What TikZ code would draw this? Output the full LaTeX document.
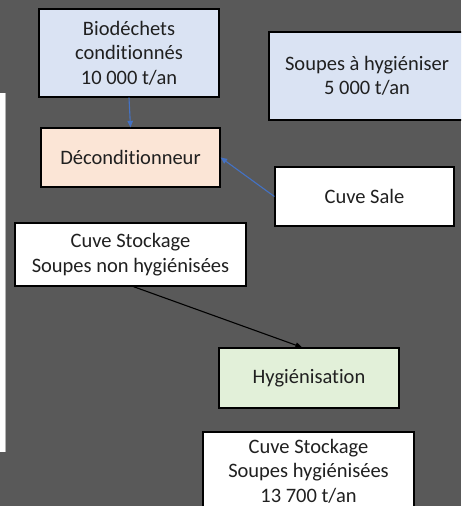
\documentclass[tikz,border=0pt]{standalone}
\usepackage{fontspec}
\setmainfont[Ligatures=NoCommon]{Carlito}
\usetikzlibrary{arrows.meta}
\definecolor{bg}{HTML}{595959}
\definecolor{lblue}{HTML}{DAE3F3}
\definecolor{lorange}{HTML}{FBE5D6}
\definecolor{lgreen}{HTML}{E2F0D9}
\definecolor{arrblue}{HTML}{4472C4}
\definecolor{txt}{HTML}{202020}
\begin{document}
\begin{tikzpicture}[x=1pt,y=-1pt,
  box/.style={draw=black,line width=1.3pt,inner sep=0pt,align=center,
    text=txt,font=\fontsize{20.5}{24.5}\selectfont},
  bluearr/.style={draw=arrblue,line width=1.1pt,-{Triangle[width=5.5pt,length=6.5pt]}},
  blackarr/.style={draw=black,line width=1.1pt,-{Triangle[width=5.5pt,length=6.5pt]}}]
\useasboundingbox (0,0) rectangle (461,506);
\clip (0,0) rectangle (461,506);
\fill[bg] (0,0) rectangle (461,506);
% partial white box at left edge
\fill[white] (-10,93) rectangle (5,452);
\draw[gray!60,line width=0.8pt] (5,93) -- (5,452);
\node[box,fill=lblue,minimum width=180pt,minimum height=88pt] (bio) at (129,53)
  {Biodéchets\\conditionnés\\10 000 t/an};
\node[box,fill=lorange,minimum width=179pt,minimum height=59pt] (dec) at (130.5,157.5)
  {Déconditionneur};
\node[box,fill=lblue,minimum width=196pt,minimum height=88pt] (soup) at (367,76)
  {Soupes à hygiéniser\\5 000 t/an};
\node[box,fill=white,minimum width=179pt,minimum height=59pt] (sale) at (364.5,196.5)
  {Cuve Sale};
\node[box,fill=white,minimum width=231pt,minimum height=63pt] (nonhyg) at (130.5,254.5)
  {Cuve Stockage\\Soupes non hygiénisées};
\node[box,minimum width=180pt,minimum height=60pt,fill=lgreen] (hyg) at (309,378)
  {Hygiénisation};
\node[box,fill=white,minimum width=211pt,minimum height=78pt] (hygst) at (308.5,471)
  {Cuve Stockage\\Soupes hygiénisées\\13 700 t/an};
\draw[bluearr] (bio.south) -- (dec.north);
\draw[bluearr] (sale.west) -- (dec.east);
\draw[blackarr] ([xshift=3pt]nonhyg.south) -- ([xshift=-7pt]hyg.north);
\end{tikzpicture}
\end{document}
